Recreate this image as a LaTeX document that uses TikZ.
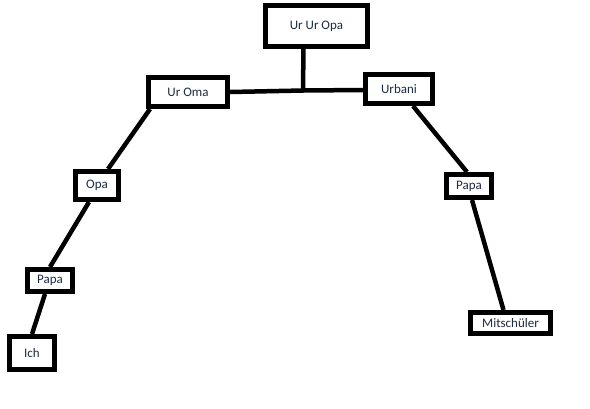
\documentclass[tikz,border=0pt]{standalone}
\usepackage{fontspec}
\setmainfont{Carlito}
\definecolor{txt}{HTML}{1E2A40}
\begin{document}
\begin{tikzpicture}[x=1pt,y=-1pt,
  box/.style={draw=black, line width=5pt, fill=white, inner sep=0pt, text=txt,
    font=\fontsize{13}{15}\selectfont},
  link/.style={draw=black, line width=4.5pt}]
\useasboundingbox[fill=white] (0,0) rectangle (590,408);
% connectors first (behind boxes)
\coordinate (j) at (303,90.5);
\node[box, minimum width=102pt, minimum height=41pt] (uuo) at (316.5,26) {Ur Ur Opa};
\node[box, minimum width=79pt, minimum height=29pt] (uroma) at (188,92) {Ur Oma};
\node[box, minimum width=67pt, minimum height=29pt] (urbani) at (399,89) {Urbani};
\node[box, minimum width=43pt, minimum height=28pt] (opa) at (97,185.5) {Opa};
\node[box, minimum width=45pt, minimum height=22pt] (papaL) at (50,280.5) {Papa};
\node[box, minimum width=45pt, minimum height=33pt] (ich) at (32,353) {Ich};
\node[box, minimum width=45pt, minimum height=23pt] (papaR) at (469,186) {Papa};
\node[box, minimum width=80pt, minimum height=21pt] (mit) at (510.5,323) {Mitschüler};
\begin{scope}[on background layer/.style={}]
\end{scope}
\draw[link] ([xshift=-13pt]uuo.south) -- (j);
\draw[link] (uroma.east) -- (j) -- ([yshift=-1pt]urbani.west);
\draw[link] ([xshift=4pt]uroma.south west) -- ([xshift=11pt]opa.north);
\draw[link] ([xshift=-8pt]opa.south) -- (papaL.north);
\draw[link] ([xshift=-5pt]papaL.south) -- (ich.north);
\draw[link] ([xshift=14pt]urbani.south) -- ([xshift=-2pt]papaR.north);
\draw[link] ([xshift=3pt]papaR.south) -- ([xshift=-7pt]mit.north);
\end{tikzpicture}
\end{document}
